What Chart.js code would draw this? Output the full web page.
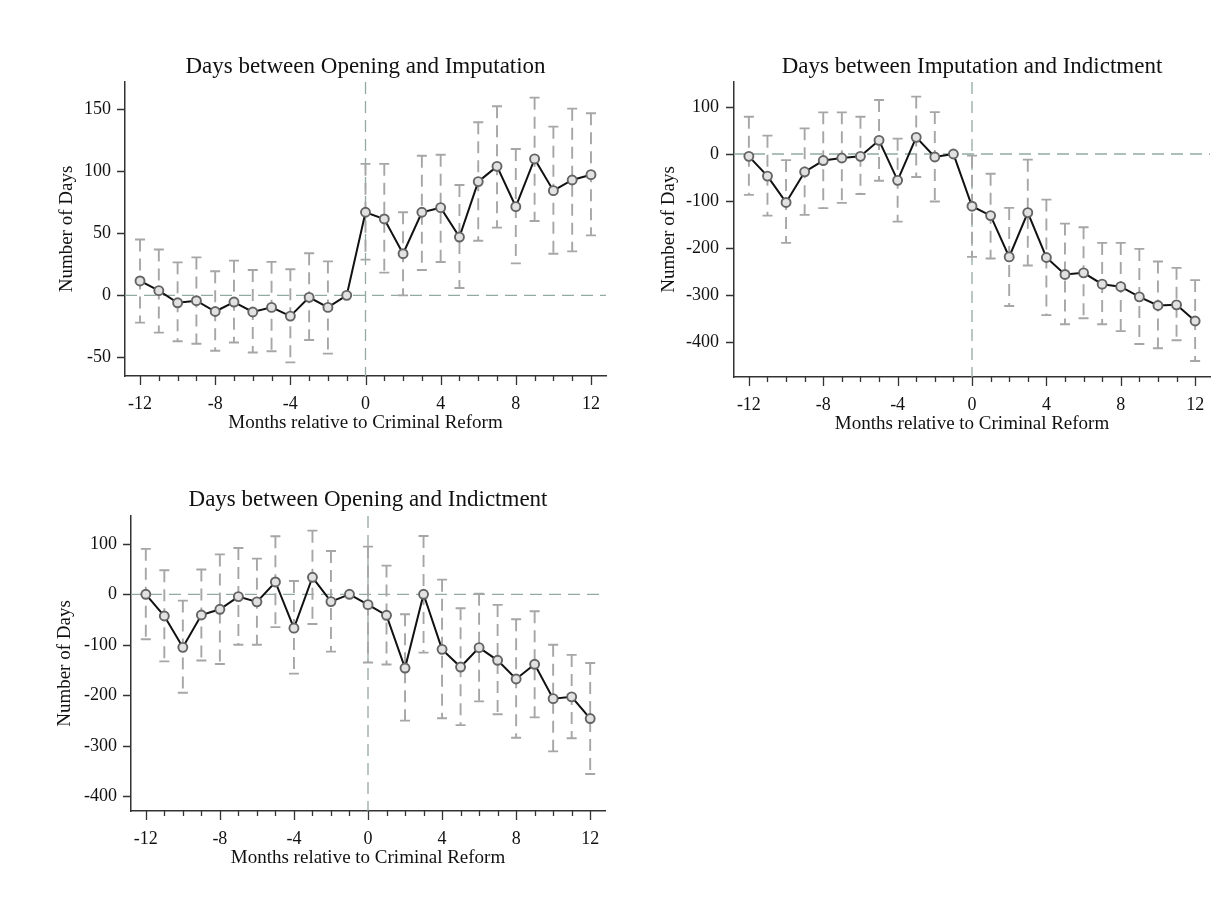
<!DOCTYPE html>
<html>
<head>
<meta charset="utf-8">
<script src="https://cdn.jsdelivr.net/npm/chart.js@4.4.1/dist/chart.umd.min.js"></script>
<style>
  html, body { margin: 0; padding: 0; background: #fff; }
  #wrap { position: relative; width: 1232px; height: 908px; background: #fff; }
  .panel { position: absolute; }
</style>
</head>
<body>
<div id="wrap">
  <div class="panel" style="left:0px;top:0px;width:620px;height:450px"><canvas id="c1"></canvas></div>
  <div class="panel" style="left:620px;top:0px;width:612px;height:450px"><canvas id="c2"></canvas></div>
  <div class="panel" style="left:0px;top:440px;width:620px;height:450px"><canvas id="c3"></canvas></div>
</div>
<script>
// Event-study months around the criminal reform
const months = [-12,-11,-10,-9,-8,-7,-6,-5,-4,-3,-2,-1,0,1,2,3,4,5,6,7,8,9,10,11,12];
const xTickLabels = [-12,-8,-4,0,4,8,12];

// Days between Opening and Imputation: estimate and 95% CI (month -1 is the reference)
const openImpEst = [11.6,3.8,-6,-4.3,-13,-5.4,-13.4,-9.7,-16.7,-1.6,-9.7,0,67,61.6,33.6,67,70.7,47,91.7,104,71.5,110,84.4,93,97.3];
const openImpLo  = [-22,-30,-37,-39,-44.6,-38,-46,-45,-54,-36,-47,null,28.8,18.3,0,20.4,26.9,5.9,44,54.6,25.8,60,33.6,35.5,48.4];
const openImpHi  = [45,37,26.6,30.6,19.4,28,20.4,27,21,34,27.4,null,106,106,67,112.6,113.4,89,139.5,152.4,118,159.4,136,150.5,146.8];
const openImpTicks = [-50,0,50,100,150];

// Days between Imputation and Indictment
const impIndEst = [-5,-47,-103,-38,-14,-8.5,-5,29,-56,35.4,-6.4,0,-111,-131,-218.7,-124.6,-220,-256,-252.6,-276.7,-282,-303.6,-322,-320.6,-355];
const impIndLo  = [-87,-131,-189,-129.5,-115,-104,-85,-57,-143.7,-49,-101,null,-218.7,-222,-323,-237,-342.5,-362,-349,-362,-376.5,-404,-413,-396,-440];
const impIndHi  = [79,39,-13,54.5,88.5,88.5,79,114.6,32.6,122,89,null,-3.5,-42,-114.6,-12,-97,-148,-155.7,-189,-189,-201.7,-228.6,-242,-268];
const impIndTicks = [-400,-300,-200,-100,0,100];

// Days between Opening and Indictment
const openIndEst = [0,-43,-105,-41,-29.7,-4.6,-15,24.4,-67,33.7,-14.5,0,-20.5,-41.6,-146,0,-109,-144,-105.6,-130.7,-167.7,-138.6,-206.6,-203,-246];
const openIndLo  = [-89,-132.7,-195,-131,-138,-100,-100,-65,-157,-58.7,-113.5,null,-135,-139,-250,-115.5,-245.5,-259,-212,-237.6,-284,-243.6,-311,-285,-355.8];
const openIndHi  = [90,47.5,-12.5,49,79,91.7,70.6,114.8,26.4,126,85.8,null,94.4,56.8,-39.6,115.5,29,-27.7,1.3,-21,-49.5,-33.7,-100,-120,-136];
const openIndTicks = [-400,-300,-200,-100,0,100];

const SERIF = "'Liberation Serif', 'Times New Roman', serif";
const TEXT = '#111';
const AXIS = '#333';
const REF = '#93aaa2';
const CI = '#a6a6a6';

// Panel title (centred over the plot region), confidence intervals,
// reference lines at zero and axis tick marks
const decorPlugin = {
  id: 'decor',
  beforeDatasetsDraw(chart) {
    const {ctx, chartArea: a, scales: {x, y}} = chart;
    const cfg = chart.options.plugins.decor;
    ctx.save();
    ctx.strokeStyle = REF;
    ctx.lineWidth = 1.3;
    ctx.setLineDash([12, 7]);
    const y0 = y.getPixelForValue(0);
    ctx.beginPath(); ctx.moveTo(a.left, y0); ctx.lineTo(a.right, y0); ctx.stroke();
    const x0 = x.getPixelForValue(0);
    ctx.beginPath(); ctx.moveTo(x0, a.top); ctx.lineTo(x0, a.bottom); ctx.stroke();

    ctx.strokeStyle = CI;
    ctx.lineWidth = 1.9;
    months.forEach((m, i) => {
      const lo = cfg.lo[i], hi = cfg.hi[i];
      if (lo === null || hi === null) return;
      const px = x.getPixelForValue(m);
      const pl = y.getPixelForValue(lo), ph = y.getPixelForValue(hi);
      ctx.setLineDash([12, 7]);
      ctx.beginPath(); ctx.moveTo(px, ph); ctx.lineTo(px, pl); ctx.stroke();
      ctx.setLineDash([]);
      ctx.beginPath();
      ctx.moveTo(px - 5, ph); ctx.lineTo(px + 5, ph);
      ctx.moveTo(px - 5, pl); ctx.lineTo(px + 5, pl);
      ctx.stroke();
    });
    ctx.restore();
  },
  afterDraw(chart) {
    const {ctx, chartArea: a, scales: {x, y}} = chart;
    const cfg = chart.options.plugins.decor;
    ctx.save();
    ctx.strokeStyle = AXIS;
    ctx.lineWidth = 1.3;
    ctx.beginPath();
    months.forEach(m => {
      const px = Math.round(x.getPixelForValue(m)) + 0.5;
      const len = (m % 4 === 0) ? 9 : 5;
      ctx.moveTo(px, a.bottom); ctx.lineTo(px, a.bottom + len);
    });
    cfg.yTicks.forEach(v => {
      const py = Math.round(y.getPixelForValue(v)) + 0.5;
      ctx.moveTo(a.left - 8, py); ctx.lineTo(a.left, py);
    });
    ctx.stroke();

    ctx.fillStyle = TEXT;
    ctx.font = '23px ' + SERIF;
    ctx.textAlign = 'center';
    ctx.textBaseline = 'middle';
    ctx.fillText(cfg.title, (a.left + a.right) / 2, cfg.titleY);
    ctx.restore();
  }
};

function makePanel(id, p) {
  const points = months.map((m, i) => ({x: m, y: p.est[i]}));
  return new Chart(document.getElementById(id), {
    type: 'line',
    data: {
      datasets: [{
        data: points,
        borderColor: '#111',
        borderWidth: 2,
        tension: 0,
        pointRadius: 4.5,
        pointBackgroundColor: '#e2e2e2',
        pointBorderColor: '#646464',
        pointBorderWidth: 1.9
      }]
    },
    options: {
      responsive: true,
      maintainAspectRatio: false,
      animation: false,
      events: [],
      layout: { padding: { left: 0, right: p.padRight, top: p.padTop, bottom: p.padBottom } },
      plugins: {
        legend: { display: false },
        tooltip: { enabled: false },
        title: { display: false },
        decor: { lo: p.lo, hi: p.hi, yTicks: p.yTicks, title: p.title, titleY: p.titleY }
      },
      scales: {
        x: {
          type: 'linear',
          min: -12.8,
          max: 12.8,
          grid: { display: false, drawTicks: false },
          border: { display: true, color: AXIS, width: 1.5 },
          afterBuildTicks: s => { s.ticks = xTickLabels.map(v => ({value: v})); },
          afterFit: s => { s.height = 60; },
          ticks: {
            autoSkip: false,
            maxRotation: 0,
            padding: 17,
            color: TEXT,
            font: { family: SERIF, size: 18 },
            callback: v => String(v)
          },
          title: {
            display: true,
            text: 'Months relative to Criminal Reform',
            color: TEXT,
            font: { family: SERIF, size: 19, lineHeight: 1.2 },
            padding: { top: 0, bottom: 2 }
          }
        },
        y: {
          type: 'linear',
          min: p.yMin,
          max: p.yMax,
          grid: { display: false, drawTicks: false },
          border: { display: true, color: AXIS, width: 1.5 },
          afterBuildTicks: s => { s.ticks = p.yTicks.map(v => ({value: v})); },
          afterFit: s => { s.width = p.yWidth; },
          ticks: {
            padding: p.yPad,
            color: TEXT,
            font: { family: SERIF, size: 18 },
            callback: v => String(v)
          },
          title: {
            display: true,
            text: 'Number of Days',
            color: TEXT,
            font: { family: SERIF, size: 19, lineHeight: 1.2 },
            padding: { top: p.yTitleTop, bottom: 0 }
          }
        }
      }
    },
    plugins: [decorPlugin]
  });
}

makePanel('c1', {
  title: 'Days between Opening and Imputation',
  est: openImpEst, lo: openImpLo, hi: openImpHi, yTicks: openImpTicks,
  yMin: -65, yMax: 172, yWidth: 125, yPad: 14, yTitleTop: 56,
  padRight: 14, padBottom: 14, padTop: 82, titleY: 66.6
});
makePanel('c2', {
  title: 'Days between Imputation and Indictment',
  est: impIndEst, lo: impIndLo, hi: impIndHi, yTicks: impIndTicks,
  yMin: -474, yMax: 153, yWidth: 114, yPad: 15, yTitleTop: 38,
  padRight: 22, padBottom: 13, padTop: 82, titleY: 66.6
});
makePanel('c3', {
  title: 'Days between Opening and Indictment',
  est: openIndEst, lo: openIndLo, hi: openIndHi, yTicks: openIndTicks,
  yMin: -429, yMax: 155, yWidth: 131, yPad: 14, yTitleTop: 54,
  padRight: 15, padBottom: 19, padTop: 76, titleY: 59.6
});
</script>
</body>
</html>
